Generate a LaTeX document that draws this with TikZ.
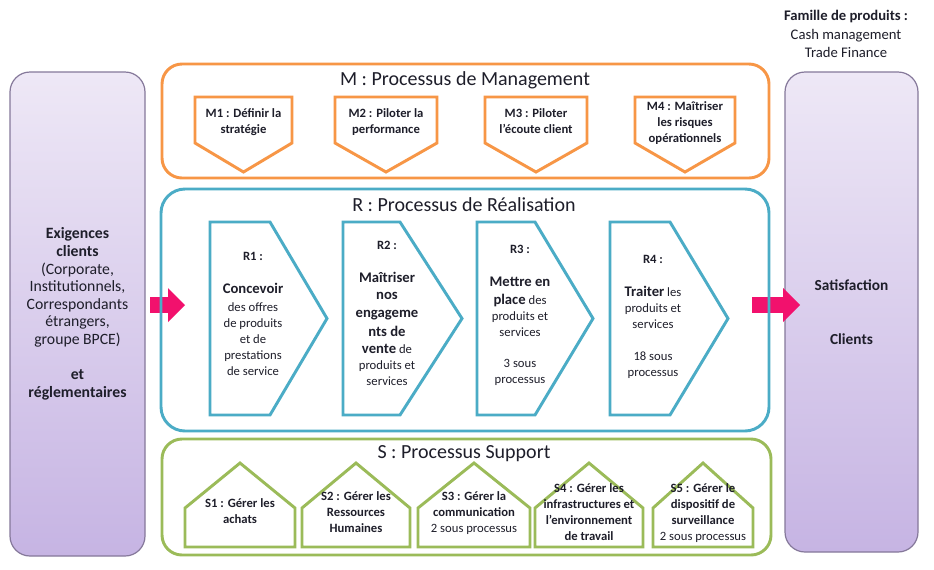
\documentclass[tikz,border=0pt]{standalone}
\usepackage{fontspec}
\setmainfont{Carlito}
\usetikzlibrary{positioning, arrows.meta}

\definecolor{mgtorange}{HTML}{F79646}
\definecolor{realteal}{HTML}{4BACC6}
\definecolor{suppgreen}{HTML}{9BBB59}
\definecolor{paneltop}{HTML}{EEE8F6}
\definecolor{panelbot}{HTML}{C6B4E3}
\definecolor{panelline}{HTML}{85789A}
\definecolor{flowpink}{HTML}{F2116D}
\definecolor{inktext}{HTML}{1E1E2A}

\newcommand{\keyverb}[1]{{\fontsize{11}{12}\selectfont\bfseries #1}}

\begin{document}
\begin{tikzpicture}[
    x=0.75pt, y=-0.75pt,
    font=\fontsize{9.5}{12}\selectfont,
    text=inktext,
    panel/.style={
        rectangle,
        rounded corners=15pt,
        draw=panelline,
        line width=0.9pt,
        top color=paneltop,
        bottom color=panelbot,
        align=center,
        font=\fontsize{11.8}{13.2}\selectfont
    },
    procbox/.style={
        rectangle,
        rounded corners=15pt,
        line width=2.2pt
    },
    boxtitle/.style={font=\fontsize{15}{18}\selectfont},
    mgt/.style={draw=mgtorange, line width=2.2pt, fill=white},
    real/.style={draw=realteal, line width=2.2pt, fill=white},
    supp/.style={draw=suppgreen, line width=2.2pt, fill=white},
    steptext/.style={align=center, inner sep=0pt, font=\fontsize{9.5}{12}\selectfont\bfseries},
    rtext/.style={align=center, inner sep=0pt},
    flow/.style={draw=flowpink, line width=12pt,
        -{Triangle[width=25.5pt, length=12.75pt, line width=0pt]}}
]

\useasboundingbox (0,0) rectangle (934,569);
\fill[white] (0,0) rectangle (934,569);

% Side panels
\node[panel, minimum width=101.25pt, minimum height=363pt] (clients) at (77.5,314)
    {\textbf{Exigences}\\\textbf{clients}\\(Corporate,\\Institutionnels,\\Correspondants\\étrangers,\\groupe BPCE)\\[13.2pt]\textbf{et}\\\textbf{réglementaires}};
\node[panel, minimum width=99.75pt, minimum height=360pt, font=\fontsize{11.5}{13.2}\selectfont] (satisf) at (851.5,312)
    {\textbf{Satisfaction}\\[26.8pt]\textbf{Clients}};
\node[align=center, font=\fontsize{11}{13.8}\selectfont] (famille) at (846,34)
    {\textbf{Famille de produits :}\\Cash management\\Trade Finance};

% Flow arrows
\coordinate (inS) at (150,305);
\coordinate (inE) at (185,305);
\coordinate (outS) at (752,305);
\coordinate (outE) at (800,305);
\draw[flow] (inS) -- (inE);
\draw[flow] (outS) -- (outE);

% Process boxes
\node[procbox, draw=mgtorange, minimum width=455.25pt, minimum height=85.5pt] (mbox) at (465.5,121) {};
\node[procbox, draw=realteal, rounded corners=18pt, minimum width=456pt, minimum height=181.5pt] (rbox) at (465,310) {};
\node[procbox, draw=suppgreen, minimum width=456.75pt, minimum height=87pt] (sbox) at (466.5,497) {};

\node[boxtitle] (mtitle) at (465,80) {M : Processus de Management};
\node[boxtitle] (rtitle) at (464,205) {R : Processus de Réalisation};
\node[boxtitle] (stitle) at (464,454) {S : Processus Support};

% Management row
\draw[mgt] (195,97) -- (292,97) -- (292,143) -- (243.5,172) -- (195,143) -- cycle;
\draw[mgt] (335,97) -- (437,97) -- (437,143) -- (386,172) -- (335,143) -- cycle;
\draw[mgt] (485,97) -- (587,97) -- (587,143) -- (536,172) -- (485,143) -- cycle;
\draw[mgt] (635,97) -- (735,97) -- (735,143) -- (685,172) -- (635,143) -- cycle;

\node[steptext] (m1) at (243.5,122.5) {M1 : Définir la\\stratégie};
\node[steptext] (m2) at (386,122.5) {M2 : Piloter la\\performance};
\node[steptext] (m3) at (536,121) {M3 : Piloter\\l’écoute client};
\node[steptext] (m4) at (685,123) {M4 : Maîtriser\\les risques\\opérationnels};

% Realisation row
\draw[real] (210,222) -- (270,222) -- (327,318.5) -- (270,415) -- (210,415) -- cycle;
\draw[real] (343,222) -- (400,222) -- (462,318.5) -- (400,415) -- (343,415) -- cycle;
\draw[real] (477,222) -- (535,222) -- (593,318.5) -- (535,415) -- (477,415) -- cycle;
\draw[real] (610,222) -- (670,222) -- (728,318.5) -- (670,415) -- (610,415) -- cycle;

\node[rtext] (r1) at (253,314)
    {\textbf{R1 :}\\[12.75pt]\keyverb{Concevoir}\\[1pt]des offres\\de produits\\et de\\prestations\\de service};
\node[rtext] (r2) at (387,313.5)
    {\textbf{R2 :}\\[12.75pt]\keyverb{Maîtriser}\\[1pt]\keyverb{nos}\\[1pt]\keyverb{engageme}\\[2.5pt]\keyverb{nts de}\\[1pt]\keyverb{vente} de\\produits et\\services};
\node[rtext] (r3) at (520,315)
    {\textbf{R3 :}\\[12.75pt]\keyverb{Mettre en}\\[1.5pt]\keyverb{place} des\\produits et\\services\\[11.25pt]3 sous\\processus};
\node[rtext] (r4) at (653,317)
    {\textbf{R4 :}\\[12.75pt]\keyverb{Traiter} les\\produits et\\services\\[12pt]18 sous\\processus};

% Support row
\draw[supp] (185,547) -- (185,508) -- (240,463) -- (295,508) -- (295,547) -- cycle;
\draw[supp] (302,547) -- (302,508) -- (356,463) -- (410,508) -- (410,547) -- cycle;
\draw[supp] (418,547) -- (418,508) -- (474,463) -- (530,508) -- (530,547) -- cycle;
\draw[supp] (535,547) -- (535,508) -- (589,463) -- (643,508) -- (643,547) -- cycle;
\draw[supp] (653,547) -- (653,508) -- (703,463) -- (753,508) -- (753,547) -- cycle;

\node[steptext] (s1) at (240,511.5) {S1 : Gérer les\\achats};
\node[steptext] (s2) at (356,512.5) {S2 : Gérer les\\Ressources\\Humaines};
\node[steptext] (s3) at (474,513.5) {S3 : Gérer la\\communication\\\mdseries 2 sous processus};
\node[steptext] (s4) at (589,512) {S4 : Gérer les\\infrastructures et\\l’environnement\\de travail};
\node[steptext] (s5) at (703,513.5) {S5 : Gérer le\\dispositif de\\surveillance\\\mdseries 2 sous processus};

\end{tikzpicture}
\end{document}
